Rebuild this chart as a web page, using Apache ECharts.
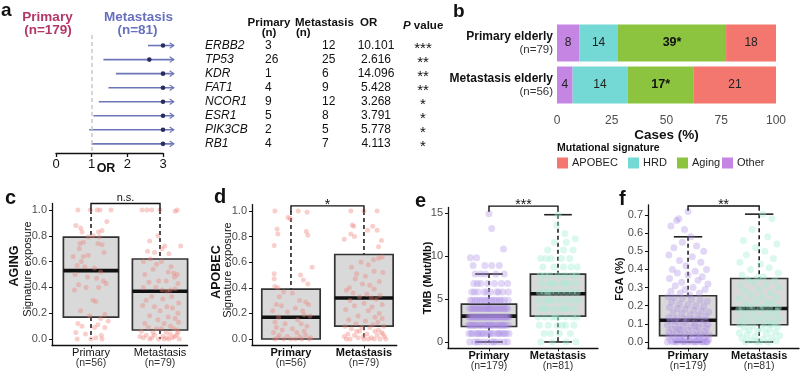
<!DOCTYPE html>
<html><head><meta charset="utf-8">
<script src="https://cdn.jsdelivr.net/npm/echarts@6/dist/echarts.min.js"></script>
<style>html,body{margin:0;padding:0;background:#fff}#chart{width:800px;height:372px}</style>
</head><body><div id="chart"></div>
<script>
// ================= DATA =================
// ---- panel a: forest plot + table ----
const genes = ['ERBB2','TP53','KDR','FAT1','NCOR1','ESR1','PIK3CB','RB1'];
const primaryN = [3,26,1,4,9,5,2,4];
const metastasisN = [12,25,6,9,12,8,5,7];
const oddsRatio = [10.101,2.616,14.096,5.428,3.268,3.791,5.778,4.113];
const pStars = ['***','**','**','**','*','*','*','*'];
const ciLower = [2.58,1.33,1.68,1.47,1.20,1.05,0.93,1.00];
const forestTicks = [0,1,2,3];

// ---- panel b: mutational signatures ----
const groupsB = ['Primary elderly','Metastasis elderly'];
const groupNB = ['(n=79)','(n=56)'];
const signatures = ['Other','HRD','Aging','APOBEC'];
const primaryElderly = [8,14,39,18];
const metastasisElderly = [4,14,17,21];
const starredSignature = 'Aging';
const legendOrder = ['APOBEC','HRD','Aging','Other'];
const casesTicks = [0,25,50,75,100];

// ---- panels c-f ----
const boxGroups = ['Primary','Metastasis'];
const nSignature = ['(n=56)','(n=79)'];
const nAll = ['(n=179)','(n=81)'];
const sigTicks = [0,0.2,0.4,0.6,0.8,1.0];
const tmbTicks = [0,5,10,15];
const fgaTicks = [0,0.1,0.2,0.3,0.4,0.5,0.6,0.7];
const sigLabels = ['n.s.','*','***','**'];
// box stats [lowWhisker, Q1, median, Q3, highWhisker] for Primary, Metastasis
const agingBox = [[0,0.17,0.53,0.79,1.0],[0,0.07,0.37,0.62,1.0]];
const apobecBox = [[0,0,0.17,0.39,1.0],[0,0.10,0.32,0.66,1.0]];
const tmbBox = [[0,1.8,3.0,4.4,7.9],[0,3.0,5.6,7.9,14.8]];
const fgaBox = [[0,0.035,0.12,0.255,0.58],[0,0.095,0.185,0.35,0.705]];

// points: [jitter, value]
const agingPrimary = [[-0.19,1.0],[-0.01,1.0],[0.09,1.0],[0.13,1.0],[0.29,1.0],
[-0.22,0.88],[0.23,0.91],[-0.15,0.86],[-0.13,0.83],[0.11,0.83],[0.16,0.84],
[-0.04,0.79],[0.03,0.80],[0.12,0.79],[-0.16,0.74],[-0.11,0.75],[0.10,0.74],[0.16,0.73],
[-0.17,0.70],[0.19,0.67],[-0.26,0.64],[-0.11,0.64],[-0.04,0.65],[-0.14,0.60],
[-0.20,0.57],[-0.09,0.56],[0.05,0.55],[0.14,0.52],[-0.23,0.50],[-0.05,0.48],[0.08,0.47],[0.18,0.45],[0.22,0.43],
[-0.18,0.42],[-0.07,0.40],[0.11,0.40],[-0.24,0.38],[0.03,0.30],[0.07,0.29],
[-0.15,0.22],[0.20,0.19],[-0.02,0.18],[0.14,0.16],[0.25,0.14],[-0.19,0.12],[0.10,0.11],
[-0.13,0.10],[0.05,0.09],[0.20,0.09],[-0.22,0.05],[-0.08,0.04],[0.15,0.03],[-0.20,0.0],[0.0,0.0],[0.07,0.01],[0.16,0.0]];
const agingMetastasis = [[-0.26,1.0],[-0.19,1.0],[-0.12,1.0],[0.0,1.0],[0.22,0.99],[0.25,1.0],
[-0.03,0.80],[-0.15,0.76],[0.07,0.72],[0.30,0.72],[-0.18,0.68],[-0.08,0.67],[0.03,0.70],[0.13,0.66],
[-0.24,0.60],[-0.14,0.62],[-0.05,0.58],[0.02,0.60],[0.16,0.56],
[-0.10,0.54],[0.12,0.52],[0.20,0.51],[0.25,0.50],[0.21,0.48],[-0.22,0.50],[0.09,0.45],[-0.02,0.45],
[-0.16,0.44],[0.26,0.43],[-0.24,0.40],[-0.06,0.40],[0.03,0.38],[0.10,0.37],[0.15,0.38],[0.22,0.39],
[-0.12,0.33],[0.17,0.33],[0.04,0.31],[-0.20,0.30],[0.27,0.28],
[-0.25,0.26],[-0.08,0.25],[0.10,0.25],[0.18,0.24],[0.00,0.22],[0.26,0.20],
[-0.15,0.18],[0.12,0.17],[0.22,0.16],[-0.03,0.15],[0.27,0.13],[-0.22,0.12],[0.06,0.12],[0.15,0.10],
[-0.17,0.09],[-0.05,0.08],[0.02,0.08],[0.20,0.08],[0.25,0.07],[-0.27,0.06],[-0.10,0.05],
[0.09,0.05],[0.15,0.04],[-0.20,0.03],[-0.08,0.03],[0.24,0.03],[-0.24,0.01],[-0.15,0.0],[-0.02,0.0],[0.06,0.0],[0.13,0.0],[0.18,0.01],[0.28,0.0],[0.21,0.02],[0.04,0.02],[-0.12,0.01],[0.10,0.01],[0.26,0.05],[-0.29,0.02]];
const apobecPrimary = [[-0.22,1.0],[0.10,1.0],[0.22,0.99],[-0.04,0.95],[-0.01,0.94],
[-0.19,0.86],[-0.18,0.82],[0.21,0.84],[0.23,0.81],[-0.23,0.73],
[0.29,0.56],[-0.23,0.51],[0.13,0.50],[-0.23,0.47],[0.17,0.46],[0.23,0.43],
[-0.22,0.41],[-0.18,0.40],[-0.10,0.37],[0.02,0.36],[-0.16,0.33],[0.12,0.30],[0.20,0.29],[0.24,0.27],
[-0.20,0.27],[-0.13,0.26],[0.06,0.24],[0.16,0.22],[-0.25,0.22],[-0.05,0.21],[0.18,0.19],[0.26,0.18],
[-0.17,0.17],[0.09,0.15],[-0.22,0.13],[-0.08,0.12],[0.14,0.12],[0.22,0.10],[-0.20,0.09],[0.02,0.08],
[-0.12,0.07],[0.18,0.06],[-0.24,0.05],[0.08,0.05],[-0.16,0.03],[0.20,0.03],[-0.05,0.02],[0.12,0.02],
[-0.22,0.0],[-0.10,0.0],[0.0,0.0],[0.06,0.0],[0.15,0.0],[0.25,0.0],[-0.18,0.01],[0.27,0.01]];
const apobecMetastasis = [[-0.18,1.0],[0.0,1.0],[0.18,1.0],[-0.16,0.89],[-0.14,0.88],[0.05,0.85],[0.12,0.88],[0.18,0.85],[-0.18,0.82],[-0.13,0.80],[-0.27,0.78],[0.24,0.77],[0.20,0.72],
[0.25,0.64],[0.20,0.63],[0.13,0.62],[-0.04,0.60],[0.06,0.58],[-0.17,0.56],[0.26,0.52],[0.14,0.53],[-0.10,0.51],[0.02,0.49],[-0.12,0.47],[0.21,0.45],
[-0.02,0.43],[0.08,0.42],[-0.20,0.40],[0.14,0.39],[-0.24,0.38],[-0.15,0.36],[0.04,0.35],[0.22,0.34],[-0.06,0.33],[0.10,0.32],[0.17,0.31],
[-0.19,0.30],[0.00,0.28],[0.25,0.27],[-0.13,0.26],[0.11,0.25],[-0.25,0.23],[0.06,0.22],[0.21,0.20],[-0.08,0.18],[0.15,0.17],[0.25,0.16],
[-0.21,0.15],[0.02,0.14],[0.19,0.13],[-0.11,0.12],[0.12,0.11],[0.27,0.10],[-0.26,0.10],[-0.03,0.09],[0.08,0.09],
[-0.17,0.08],[0.20,0.07],[-0.06,0.06],[0.15,0.06],[0.24,0.05],[-0.22,0.04],[0.04,0.04],[-0.13,0.03],[0.18,0.03],[0.28,0.02],
[-0.27,0.02],[-0.08,0.01],[0.10,0.01],[-0.19,0.0],[0.0,0.0],[0.14,0.0],[0.22,0.0],[0.30,0.0],[-0.24,0.0],[0.06,0.0],[-0.10,0.06],[0.26,0.04],[-0.01,0.02]];
// TMB points by level: [value, [jitters]]
const tmbPrimary = [
 [0,[-0.28,-0.21,-0.14,-0.08,-0.02,0.04,0.10,0.16,0.22,0.27,-0.17,0.07]],
 [0.97,[-0.29,-0.24,-0.19,-0.15,-0.11,-0.06,-0.02,0.03,0.07,0.12,0.16,0.20,0.25,0.29,-0.26,-0.09,0.01,0.14,0.22,-0.16]],
 [1.94,[-0.30,-0.26,-0.22,-0.18,-0.14,-0.10,-0.06,-0.03,0.00,0.04,0.08,0.12,0.16,0.20,0.24,0.28,-0.28,-0.20,-0.12,-0.04,0.06,0.14,0.22,-0.24,0.02,0.18]],
 [2.91,[-0.29,-0.25,-0.21,-0.17,-0.13,-0.09,-0.05,-0.01,0.03,0.07,0.11,0.15,0.19,0.23,0.27,-0.27,-0.19,-0.11,-0.03,0.05,0.13,0.21,0.29,-0.23,-0.07,0.09,0.25,-0.15,0.01,0.17]],
 [3.88,[-0.28,-0.23,-0.18,-0.13,-0.08,-0.03,0.02,0.07,0.12,0.17,0.22,0.27,-0.25,-0.15,-0.05,0.05,0.15,0.25,-0.20,-0.10,0.00,0.10,0.20,-0.01]],
 [4.85,[-0.27,-0.20,-0.13,-0.06,0.01,0.08,0.15,0.22,0.28,-0.24,-0.10,0.04,0.18,-0.17,0.11,-0.03]],
 [5.82,[-0.25,-0.16,-0.07,0.02,0.11,0.20,0.28,-0.21,-0.03,0.14]],
 [6.79,[-0.22,-0.12,-0.02,0.08,0.18,0.27,-0.17]],
 [7.9,[-0.20,-0.05,0.10,0.22,-0.12]],
 [8.9,[-0.23,-0.06,0.04,0.15]],
 [9.8,[-0.27,-0.18]],
 [10.8,[0.21]],
 [13.2,[0.04]],
 [14.9,[0.0]]
];
const tmbMetastasis = [
 [0,[-0.25,-0.08,0.12,0.26]],
 [0.97,[-0.20,0.02,0.18,-0.11]],
 [1.94,[-0.27,-0.14,-0.01,0.11,0.23,0.06]],
 [2.91,[-0.29,-0.19,-0.09,0.01,0.11,0.21,0.28,-0.04]],
 [3.88,[-0.26,-0.16,-0.06,0.04,0.14,0.24,-0.21,0.09]],
 [4.85,[-0.28,-0.18,-0.08,0.02,0.12,0.22,0.29,-0.13]],
 [5.82,[-0.27,-0.20,-0.11,-0.03,0.05,0.13,0.21,0.28,-0.15]],
 [6.79,[-0.24,-0.14,-0.04,0.06,0.16,0.26,-0.09,0.11]],
 [7.76,[-0.26,-0.12,0.00,0.10,0.20,0.27,-0.19]],
 [8.73,[-0.22,-0.06,0.08,0.19,0.28]],
 [9.7,[-0.25,-0.10,0.05,0.17,-0.17]],
 [10.7,[-0.15,0.08,0.22]],
 [11.6,[-0.05,0.12]],
 [12.0,[0.25]],
 [12.6,[0.10]],
 [13.6,[-0.02]],
 [14.8,[0.00]]
];
const fgaPrimary = [[0,0.72],[-0.13,0.68],[-0.16,0.67],[-0.24,0.64],[-0.05,0.62],
[0.04,0.58],[-0.08,0.55],[0.12,0.53],[-0.20,0.52],[0.22,0.50],[-0.27,0.48],[0.06,0.47],[-0.12,0.45],[0.18,0.44],[-0.03,0.42],[0.26,0.40],[-0.22,0.40],[0.10,0.39],[-0.15,0.38],[0,0.37],[0.20,0.36],[-0.26,0.35],[0.14,0.34],[-0.09,0.33],[0.28,0.32],[-0.18,0.31],[0.07,0.30],[-0.04,0.29],[0.24,0.29],[-0.24,0.28],[0.16,0.27],[-0.11,0.27],[0.02,0.26],
[-0.28,0.25],[-0.19,0.245],[-0.08,0.24],[0.05,0.235],[0.17,0.23],[0.27,0.225],[-0.23,0.22],[-0.12,0.21],[0,0.205],[0.11,0.20],[0.22,0.195],[-0.26,0.19],[-0.15,0.185],[-0.04,0.18],[0.08,0.175],[0.19,0.17],[0.29,0.165],[-0.21,0.16],[-0.09,0.155],[0.03,0.15],[0.14,0.145],[0.25,0.14],[-0.27,0.135],[-0.16,0.13],[-0.06,0.13],[0.06,0.125],[0.16,0.125],[-0.02,0.122],[0.24,0.12],[-0.19,0.12],
[-0.25,0.115],[-0.13,0.11],[-0.03,0.108],[0.09,0.105],[0.20,0.10],[0.28,0.097],[-0.29,0.094],[-0.18,0.09],[-0.07,0.087],[0.04,0.083],[0.15,0.08],[0.26,0.076],[-0.23,0.072],[-0.11,0.069],[0,0.066],[0.12,0.062],[0.23,0.059],[-0.27,0.055],[-0.16,0.052],[-0.05,0.049],[0.07,0.046],[0.18,0.043],[0.29,0.04],[-0.21,0.038],[-0.09,0.037],[0.02,0.036],[0.13,0.035],[0.24,0.035],[-0.14,0.07],[0.10,0.09],
[-0.28,0.03],[-0.20,0.028],[-0.12,0.025],[-0.04,0.022],[0.05,0.02],[0.14,0.018],[0.22,0.015],[0.29,0.012],[-0.25,0.01],[-0.16,0.008],[-0.07,0.006],[0.02,0.005],[0.11,0.004],[0.19,0.003],[0.27,0.002],[-0.29,0],[-0.22,0],[-0.15,0],[-0.08,0],[-0.01,0],[0.06,0],[0.13,0],[0.20,0],[0.26,0],[-0.18,0.001],[-0.05,0.002],[0.09,0.001],[0.24,0.001],[-0.11,0.014],[0.16,0.026]];
const fgaMetastasis = [[0.05,0.705],[0.18,0.68],[-0.10,0.62],[0.12,0.58],[-0.22,0.56],[0.25,0.54],[-0.05,0.52],[0.08,0.50],[-0.18,0.48],[0.20,0.46],[-0.27,0.44],[0.02,0.43],[0.14,0.41],[-0.12,0.40],[0.27,0.38],[-0.24,0.37],[0.06,0.36],[-0.02,0.355],
[-0.16,0.345],[0.22,0.34],[-0.08,0.33],[0.10,0.32],[-0.26,0.31],[0.28,0.30],[0,0.29],[-0.20,0.28],[0.16,0.27],[-0.12,0.26],[0.04,0.25],[0.24,0.245],[-0.28,0.24],[-0.04,0.23],[0.12,0.22],[-0.18,0.215],[0.19,0.21],[-0.09,0.20],[0.06,0.195],[0.27,0.19],[-0.24,0.188],
[-0.14,0.185],[0.01,0.183],[0.15,0.18],[-0.29,0.175],[0.25,0.17],[-0.06,0.165],[0.09,0.16],[-0.20,0.155],[0.20,0.15],[-0.11,0.14],[0.03,0.135],[0.28,0.13],[-0.25,0.125],[0.13,0.12],[-0.03,0.115],[-0.17,0.11],[0.22,0.105],[0.07,0.10],[-0.27,0.097],[0.17,0.095],
[-0.09,0.09],[0.26,0.085],[-0.21,0.08],[0.04,0.075],[0.14,0.07],[-0.14,0.065],[-0.02,0.06],[0.23,0.055],[-0.28,0.05],[0.10,0.045],[-0.17,0.04],[0.29,0.035],[-0.06,0.03],[0.18,0.025],[-0.24,0.02],[0.06,0.015],[-0.12,0.01],[0.24,0.005],[0,0],[-0.19,0],[0.13,0],[-0.04,0.002]];

// ================= RENDERING =================
const FONT = "'Liberation Sans', Arial, Helvetica, sans-serif";
const sigColors = {APOBEC:'#F3766F', HRD:'#74D9D4', Aging:'#8CC43F', Other:'#C585E3'};
const legendLeft = {APOBEC:557, HRD:628, Aging:677, Other:722};
const chart = echarts.init(document.getElementById('chart'), null, {renderer:'canvas'});

const FOREST_MAX = 3, FOREST_ARROW = 3.3;
const bCounts = [primaryElderly, metastasisElderly];
const bTotals = bCounts.map(a => a.reduce((s, v) => s + v, 0));

const levelsToPoints = (levels, center) => {
  const out = [];
  levels.forEach(([v, js]) => js.forEach(j => out.push([center + j, v])));
  return out;
};
const pairsToPoints = (pairs, center) => pairs.map(([j, v]) => [center + j, v]);

const pink = 'rgba(240,130,122,0.48)';
const lav = 'rgba(168,140,228,0.42)';
const mint = 'rgba(165,238,215,0.5)';
const panels = [
  {grid:{left:52, top:203.5, width:135.6, height:142}, x:[0.435,2.4], y:[-0.05,1.05], ticks:sigTicks, dec:1,
   box:agingBox, pts:[pairsToPoints(agingPrimary,1), pairsToPoints(agingMetastasis,2)],
   colors:[pink, pink], size:5, capped:false, sig:sigLabels[0],
   bracket:[1.05,0.995], nLab:nSignature, boldX:false},
  {grid:{left:252, top:204.6, width:144.8, height:140.8}, x:[0.466,2.45], y:[-0.05,1.05], ticks:sigTicks, dec:1,
   box:apobecBox, pts:[pairsToPoints(apobecPrimary,1), pairsToPoints(apobecMetastasis,2)],
   colors:[pink, pink], size:5, capped:false, sig:sigLabels[1],
   bracket:[1.04,0.995], nLab:nSignature, boldX:true},
  {grid:{left:448, top:207.4, width:150, height:141}, x:[0.406,2.58], y:[-0.75,15.65], ticks:tmbTicks, dec:0,
   box:tmbBox, pts:[levelsToPoints(tmbPrimary,1), levelsToPoints(tmbMetastasis,2)],
   colors:[lav, mint], size:7, capped:true, sig:sigLabels[2],
   bracket:[15.8,15.15], nLab:nAll, boldX:true},
  {grid:{left:648, top:204.9, width:151, height:143.6}, x:[0.437,2.56], y:[-0.036,0.756], ticks:fgaTicks, dec:1,
   box:fgaBox, pts:[pairsToPoints(fgaPrimary,1), pairsToPoints(fgaMetastasis,2)],
   colors:[lav, mint], size:7, capped:true, sig:sigLabels[3],
   bracket:[0.75,0.724], nLab:nAll, boldX:true}
];

const grids = [
  {left:56, top:35, width:107, height:118},
  {left:557, top:22, width:219, height:84}
].concat(panels.map(p => p.grid));

const xAxes = [
  {gridIndex:0, type:'value', min:0, max:FOREST_MAX, interval:1,
   axisLine:{onZero:false, lineStyle:{color:'#111', width:1.3}}, axisTick:{length:4, lineStyle:{color:'#111', width:1.3}},
   axisLabel:{color:'#111', fontSize:13, margin:5, fontFamily:FONT}, splitLine:{show:false}},
  {gridIndex:1, type:'value', min:0, max:100, interval:25, offset:2,
   axisLine:{onZero:false, lineStyle:{color:'#111', width:1.3}}, axisTick:{length:4, lineStyle:{color:'#111', width:1.3}},
   axisLabel:{color:'#4d4d4d', fontSize:12, margin:7, fontFamily:FONT}, splitLine:{show:false},
   name:'Cases (%)', nameLocation:'middle', nameGap:17,
   nameTextStyle:{fontWeight:'bold', fontSize:13.5, color:'#111', fontFamily:FONT, verticalAlign:'top'}}
];
const yAxes = [
  {gridIndex:0, type:'value', min:-0.75, max:7.65, inverse:true, show:false},
  {gridIndex:1, type:'category', data:groupsB, inverse:true,
   axisLine:{show:false}, axisTick:{show:false},
   axisLabel:{margin:4, fontFamily:FONT,
     formatter:(v, i) => `{b|${v}}\n{n|${groupNB[i]}}`,
     rich:{b:{fontWeight:'bold', fontSize:12, color:'#111', lineHeight:13, align:'right', fontFamily:FONT},
           n:{fontSize:11.5, color:'#333', lineHeight:13, align:'right', fontFamily:FONT}}}}
];
panels.forEach((p, k) => {
  const gi = k + 2;
  xAxes.push({gridIndex:gi, type:'value', min:p.x[0], max:p.x[1], splitLine:{show:false},
    axisLine:{onZero:false, lineStyle:{color:'#111', width:1.3}},
    axisTick:{customValues:[1,2], length:3, lineStyle:{color:'#111'}},
    axisLabel:{customValues:[1,2], margin:2, fontFamily:FONT,
      formatter:v => {const i = Math.round(v) - 1; return `{${p.boldX?'b':'r'}|${boxGroups[i]}}\n{n|${p.nLab[i]}}`;},
      rich:{b:{fontWeight:'bold', fontSize:11, color:'#111', lineHeight:10.5, fontFamily:FONT},
            r:{fontSize:11, color:'#111', lineHeight:10.5, fontFamily:FONT},
            n:{fontSize:10.5, color:'#333', lineHeight:10.5, fontFamily:FONT}}}});
  yAxes.push({gridIndex:gi, type:'value', min:p.y[0], max:p.y[1], splitLine:{show:false},
    axisLine:{show:true, onZero:false, lineStyle:{color:'#111', width:1.3}},
    axisTick:{show:true, customValues:p.ticks, length:3, lineStyle:{color:'#111'}},
    axisLabel:{customValues:p.ticks, margin:5, color:'#4d4d4d', fontSize:11, fontFamily:FONT,
      formatter:v => v.toFixed(p.dec)}});
});

const series = [];
// forest
series.push({type:'custom', xAxisIndex:0, yAxisIndex:0, clip:false, z:3,
  data: genes.map((g, i) => [ciLower[i], i, oddsRatio[i]]),
  renderItem:(params, api) => {
    const i = api.value(1);
    const p0 = api.coord([api.value(0), i]);
    const pe = api.coord([FOREST_ARROW, i]);
    const pp = api.coord([Math.min(api.value(2), FOREST_MAX), i]);
    return {type:'group', children:[
      {type:'line', shape:{x1:p0[0], y1:p0[1], x2:pe[0], y2:pe[1]}, style:{stroke:'#6c76b8', lineWidth:1.6}},
      {type:'polyline', shape:{points:[[pe[0]-4, pe[1]-2.8],[pe[0], pe[1]],[pe[0]-4, pe[1]+2.8]]}, style:{stroke:'#6c76b8', fill:null, lineWidth:1.2}},
      {type:'circle', shape:{cx:pp[0], cy:pp[1], r:2.3}, style:{fill:'#2a2d5c'}}
    ]};
  },
  markLine:{silent:true, symbol:'none', label:{show:false},
    lineStyle:{type:[4,3], color:'#c9c9c9', width:1.5}, data:[{xAxis:1}]}
});
// table
series.push({type:'custom', xAxisIndex:0, yAxisIndex:0, clip:false,
  data: genes.map((g, i) => [0, i]),
  renderItem:(params, api) => {
    const i = api.value(1);
    const y = api.coord([0, i])[1];
    const t = (text, x, align, extra) => ({type:'text', x, y, style:Object.assign({text, fontSize:12, fontFamily:FONT, fill:'#111', align, verticalAlign:'middle'}, extra || {})});
    return {type:'group', children:[
      t(genes[i], 205, 'left', {fontStyle:'italic'}),
      t(String(primaryN[i]), 265, 'left'),
      t(String(metastasisN[i]), 322, 'left'),
      t(oddsRatio[i].toFixed(3), 376, 'center'),
      {type:'text', x:423, y:y + 3, style:{text:pStars[i], fontSize:15, fontFamily:FONT, fill:'#111', align:'center', verticalAlign:'middle'}}
    ]};
  }
});
// stacked bars
signatures.forEach((sig, k) => {
  series.push({type:'bar', name:sig, stack:'cases', xAxisIndex:1, yAxisIndex:1, barWidth:37,
    itemStyle:{color:sigColors[sig]},
    data: bCounts.map((arr, g) => arr[k] / bTotals[g] * 100),
    label:{show:true, position:'inside', fontFamily:FONT, fontSize:12, color:'#222',
      formatter:p => sig === starredSignature ? `{s|${bCounts[p.dataIndex][k]}*}` : String(bCounts[p.dataIndex][k]),
      rich:{s:{fontWeight:'bold', fontSize:12.5, color:'#111', fontFamily:FONT}}}});
});
// box panels
panels.forEach((p, k) => {
  const gi = k + 2;
  series.push({type:'custom', xAxisIndex:gi, yAxisIndex:gi, z:2,
    data: p.box.map((b, i) => [i + 1].concat(b)),
    renderItem:(params, api) => {
      const x = api.value(0);
      const lo = api.value(1), q1 = api.value(2), med = api.value(3), q3 = api.value(4), hi = api.value(5);
      const tl = api.coord([x - 0.4, q3]), br = api.coord([x + 0.4, q1]);
      const mL = api.coord([x - 0.4, med]), mR = api.coord([x + 0.4, med]);
      const pHi = api.coord([x, hi]), pLo = api.coord([x, lo]), pQ3 = api.coord([x, q3]), pQ1 = api.coord([x, q1]);
      const dash = {stroke:'#222', lineWidth:1.6, lineDash:[4,3]};
      const ch = [
        {type:'line', shape:{x1:pHi[0], y1:pHi[1], x2:pQ3[0], y2:pQ3[1]}, style:dash},
        {type:'line', shape:{x1:pQ1[0], y1:pQ1[1], x2:pLo[0], y2:pLo[1]}, style:dash},
        {type:'rect', shape:{x:tl[0], y:tl[1], width:br[0]-tl[0], height:br[1]-tl[1]}, style:{fill:'#d9d9d9', stroke:'#333', lineWidth:1.7}},
        {type:'line', shape:{x1:mL[0], y1:mL[1], x2:mR[0], y2:mR[1]}, style:{stroke:'#111', lineWidth:3.6}}
      ];
      if (p.capped) {
        [hi, lo].forEach(v => {
          const a = api.coord([x - 0.2, v]), b = api.coord([x + 0.2, v]);
          ch.push({type:'line', shape:{x1:a[0], y1:a[1], x2:b[0], y2:b[1]}, style:{stroke:'#222', lineWidth:1.6}});
        });
      }
      return {type:'group', children:ch};
    }});
  p.pts.forEach((pts, g) => {
    series.push({type:'scatter', xAxisIndex:gi, yAxisIndex:gi, z:3, symbolSize:p.size, data:pts,
      itemStyle:{color:p.colors[g]}, silent:true});
  });
  // significance bracket
  series.push({type:'custom', xAxisIndex:gi, yAxisIndex:gi, clip:false, z:4, data:[[1, 2]],
    renderItem:(params, api) => {
      const a = api.coord([api.value(0), p.bracket[0]]), b = api.coord([api.value(1), p.bracket[0]]);
      const at = api.coord([api.value(0), p.bracket[1]]), bt = api.coord([api.value(1), p.bracket[1]]);
      const isText = /[a-z]/.test(p.sig);
      return {type:'group', children:[
        {type:'polyline', shape:{points:[[at[0], at[1]],[a[0], a[1]],[b[0], b[1]],[bt[0], bt[1]]]}, style:{stroke:'#111', lineWidth:1.4, fill:null}},
        {type:'text', x:(a[0] + b[0]) / 2, y: isText ? a[1] - 6 : a[1] - 1,
         style:{text:p.sig, fontFamily:FONT, fontSize:isText ? 11 : 14, fill:'#111', align:'center', verticalAlign:'middle'}}
      ]};
    }});
});

const txt = (text, x, y, o) => ({type:'text', x, y, silent:true,
  style:Object.assign({text, fontFamily:FONT, fontSize:12, fill:'#111', align:'left', verticalAlign:'middle'}, o || {})});
const graphic = [
  txt('a', 1, 11, {fontSize:19, fontWeight:'bold'}),
  txt('b', 453, 12, {fontSize:19, fontWeight:'bold'}),
  txt('c', 5, 198, {fontSize:20, fontWeight:'bold'}),
  txt('d', 214, 197, {fontSize:20, fontWeight:'bold'}),
  txt('e', 415, 201, {fontSize:20, fontWeight:'bold'}),
  txt('f', 619, 199, {fontSize:20, fontWeight:'bold'}),
  txt('Primary', 47.5, 17, {fontSize:13.5, fontWeight:'bold', fill:'#b23668', align:'center'}),
  txt('(n=179)', 48, 30.5, {fontSize:13.5, fontWeight:'bold', fill:'#b23668', align:'center'}),
  txt('Metastasis', 138.5, 17, {fontSize:13.5, fontWeight:'bold', fill:'#6770bf', align:'center'}),
  txt('(n=81)', 137.5, 30.5, {fontSize:13.5, fontWeight:'bold', fill:'#6770bf', align:'center'}),
  txt('OR', 106, 169, {fontSize:12.5, fontWeight:'bold', align:'center'}),
  txt('Primary', 269, 23, {fontWeight:'bold', fontSize:11.5, align:'center'}),
  txt('(n)', 269, 33, {fontWeight:'bold', fontSize:11.5, align:'center'}),
  txt('Metastasis', 295, 23, {fontWeight:'bold', fontSize:11.5}),
  txt('(n)', 296, 33, {fontWeight:'bold', fontSize:11.5}),
  txt('OR', 360, 23, {fontWeight:'bold', fontSize:11.5}),
  txt('{i|P} value', 403, 26, {fontWeight:'bold', fontSize:11.5, rich:{i:{fontStyle:'italic', fontWeight:'bold', fontSize:11.5, fontFamily:FONT, fill:'#111'}}}),
  txt('Mutational signature', 557, 148, {fontWeight:'bold', fontSize:10.5}),
  txt('AGING', 15, 266, {fontWeight:'bold', fontSize:12.5, align:'center'}),
  txt('Signature exposure', 27.5, 269, {fontSize:11, align:'center'}),
  txt('APOBEC', 217, 272, {fontWeight:'bold', fontSize:12.5, align:'center'}),
  txt('Signature exposure', 228, 270, {fontSize:11, align:'center'}),
  txt('TMB (Mut/Mb)', 428, 278, {fontWeight:'bold', fontSize:11, align:'center'}),
  txt('FGA (%)', 620, 279, {fontWeight:'bold', fontSize:11, align:'center'})
];
// rotate y-axis titles
graphic.slice(18).forEach(g => { g.rotation = Math.PI / 2; });

chart.setOption({
  animation:false,
  textStyle:{fontFamily:FONT},
  grid:grids, xAxis:xAxes, yAxis:yAxes, series,
  legend: legendOrder.map(name => ({data:[name], left:legendLeft[name], top:157.5, padding:0, icon:'rect',
    itemWidth:11, itemHeight:11, itemGap:0, selectedMode:false,
    textStyle:{fontSize:11, color:'#222', fontFamily:FONT, padding:[0,0,0,-1]}})),
  graphic
});
</script></body></html>
